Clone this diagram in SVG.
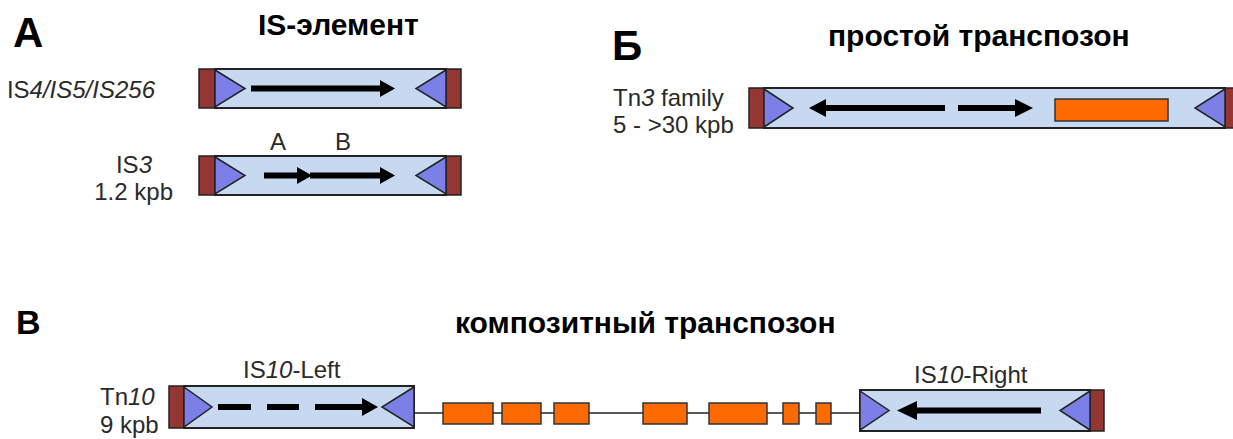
<svg xmlns="http://www.w3.org/2000/svg" width="1233" height="439" viewBox="0 0 1233 439">
<style>
.red{fill:#943634;stroke:#222;stroke-width:1.5}
.body{fill:#c6d9f1;stroke:#222;stroke-width:2}
.tri{fill:#7c80e6;stroke:#222;stroke-width:1.5;stroke-linejoin:miter}
.shaft{stroke:#000;stroke-width:6;fill:none}
.head{fill:#000}
.gene{fill:#ff6a00;stroke:#333;stroke-width:1.5}
.big{font-family:"Liberation Sans",Arial,sans-serif;font-weight:bold;fill:#000}
.lab{font-family:"Liberation Sans",Arial,sans-serif;font-size:24px;fill:#2a2a2a}
.it{font-style:italic}
</style>
<rect width="1233" height="439" fill="#fff"/>
<g id="titles">
<text class="big" x="13" y="47" font-size="42">A</text>
<text class="big" x="258" y="35" font-size="30">IS-элемент</text>
<text class="big" x="612" y="60" font-size="42">Б</text>
<text class="big" x="828" y="46" font-size="30">простой транспозон</text>
<text class="big" x="16" y="334" font-size="34">В</text>
<text class="big" x="455" y="333" font-size="30">композитный транспозон</text>
</g>
<g id="is4">
<text class="lab" x="155" y="98" text-anchor="end">IS<tspan class="it">4/IS5/IS256</tspan></text>
<rect class="body" x="215" y="69" width="231" height="39"/>
<rect class="red" x="199" y="69" width="16" height="39"/>
<rect class="red" x="446" y="69" width="15" height="39"/>
<polygon class="tri" points="215,70 245,88.5 215,107"/>
<polygon class="tri" points="446,70 416,88.5 446,107"/>
<line class="shaft" x1="251" y1="88.5" x2="381" y2="88.5"/>
<polygon class="head" points="380,80 395,88.5 380,97"/>
</g>
<g id="is3">
<text class="lab" x="152" y="173" text-anchor="end">IS<tspan class="it">3</tspan></text>
<text class="lab" x="173" y="200" text-anchor="end">1.2 kpb</text>
<text class="lab" x="270" y="150">A</text>
<text class="lab" x="335" y="150">B</text>
<rect class="body" x="215" y="156" width="231" height="39"/>
<rect class="red" x="199" y="156" width="16" height="39"/>
<rect class="red" x="446" y="156" width="15" height="39"/>
<polygon class="tri" points="215,157 245,175.5 215,194"/>
<polygon class="tri" points="446,157 416,175.5 446,194"/>
<line class="shaft" x1="264" y1="175.5" x2="300" y2="175.5"/>
<polygon class="head" points="297,167 312,175.5 297,184"/>
<line class="shaft" x1="310" y1="175.5" x2="381" y2="175.5"/>
<polygon class="head" points="380,167 395,175.5 380,184"/>
</g>
<g id="tn3">
<text class="lab" x="613" y="106">Tn<tspan class="it">3</tspan> family</text>
<text class="lab" x="613" y="133">5 - &gt;30 kpb</text>
<rect class="body" x="764" y="88" width="461" height="40"/>
<rect class="red" x="749" y="88" width="15" height="40"/>
<rect class="red" x="1225" y="88" width="15" height="40"/>
<polygon class="tri" points="764,89 793,108 764,127"/>
<polygon class="tri" points="1225,89 1195,108 1225,127"/>
<polygon class="head" points="826,99 809,108 826,117"/>
<line class="shaft" x1="825" y1="108" x2="945" y2="108"/>
<line class="shaft" x1="958" y1="108" x2="1016" y2="108"/>
<polygon class="head" points="1015,99 1033,108 1015,117"/>
<rect class="gene" x="1055" y="99" width="113" height="22"/>
</g>
<g id="connectors">
<line x1="414" y1="413" x2="860" y2="413" stroke="#222" stroke-width="1.5"/>
</g>
<g id="tn10-label">
<text class="lab" x="100" y="405">Tn<tspan class="it">10</tspan></text>
<text class="lab" x="100" y="433">9 kpb</text>
</g>
<g id="is10-left">
<text class="lab" x="243" y="378">IS<tspan class="it">10</tspan>-Left</text>
<rect class="body" x="184" y="386" width="230" height="42"/>
<rect class="red" x="169" y="386" width="15" height="42"/>
<polygon class="tri" points="184,387 212,407 184,427"/>
<polygon class="tri" points="414,387 382,407 414,427"/>
<line class="shaft" x1="218" y1="407" x2="251" y2="407"/>
<line class="shaft" x1="267" y1="407" x2="299" y2="407"/>
<line class="shaft" x1="315" y1="407" x2="363" y2="407"/>
<polygon class="head" points="362,398 378,407 362,416"/>
</g>
<g id="genes">
<rect class="gene" x="443" y="403" width="50" height="21"/>
<rect class="gene" x="502" y="403" width="39" height="21"/>
<rect class="gene" x="554" y="403" width="35" height="21"/>
<rect class="gene" x="643" y="403" width="44" height="21"/>
<rect class="gene" x="709" y="403" width="58" height="21"/>
<rect class="gene" x="783" y="403" width="16" height="21"/>
<rect class="gene" x="816" y="403" width="15" height="21"/>
</g>
<g id="is10-right">
<text class="lab" x="914" y="383">IS<tspan class="it">10</tspan>-Right</text>
<rect class="body" x="860" y="390" width="230" height="41"/>
<rect class="red" x="1090" y="390" width="14" height="41"/>
<polygon class="tri" points="860,391 889,410.5 860,430"/>
<polygon class="tri" points="1090,391 1060,410.5 1090,430"/>
<polygon class="head" points="917,401 897,410.5 917,420"/>
<line class="shaft" x1="916" y1="410.5" x2="1041" y2="410.5"/>
</g>
</svg>
